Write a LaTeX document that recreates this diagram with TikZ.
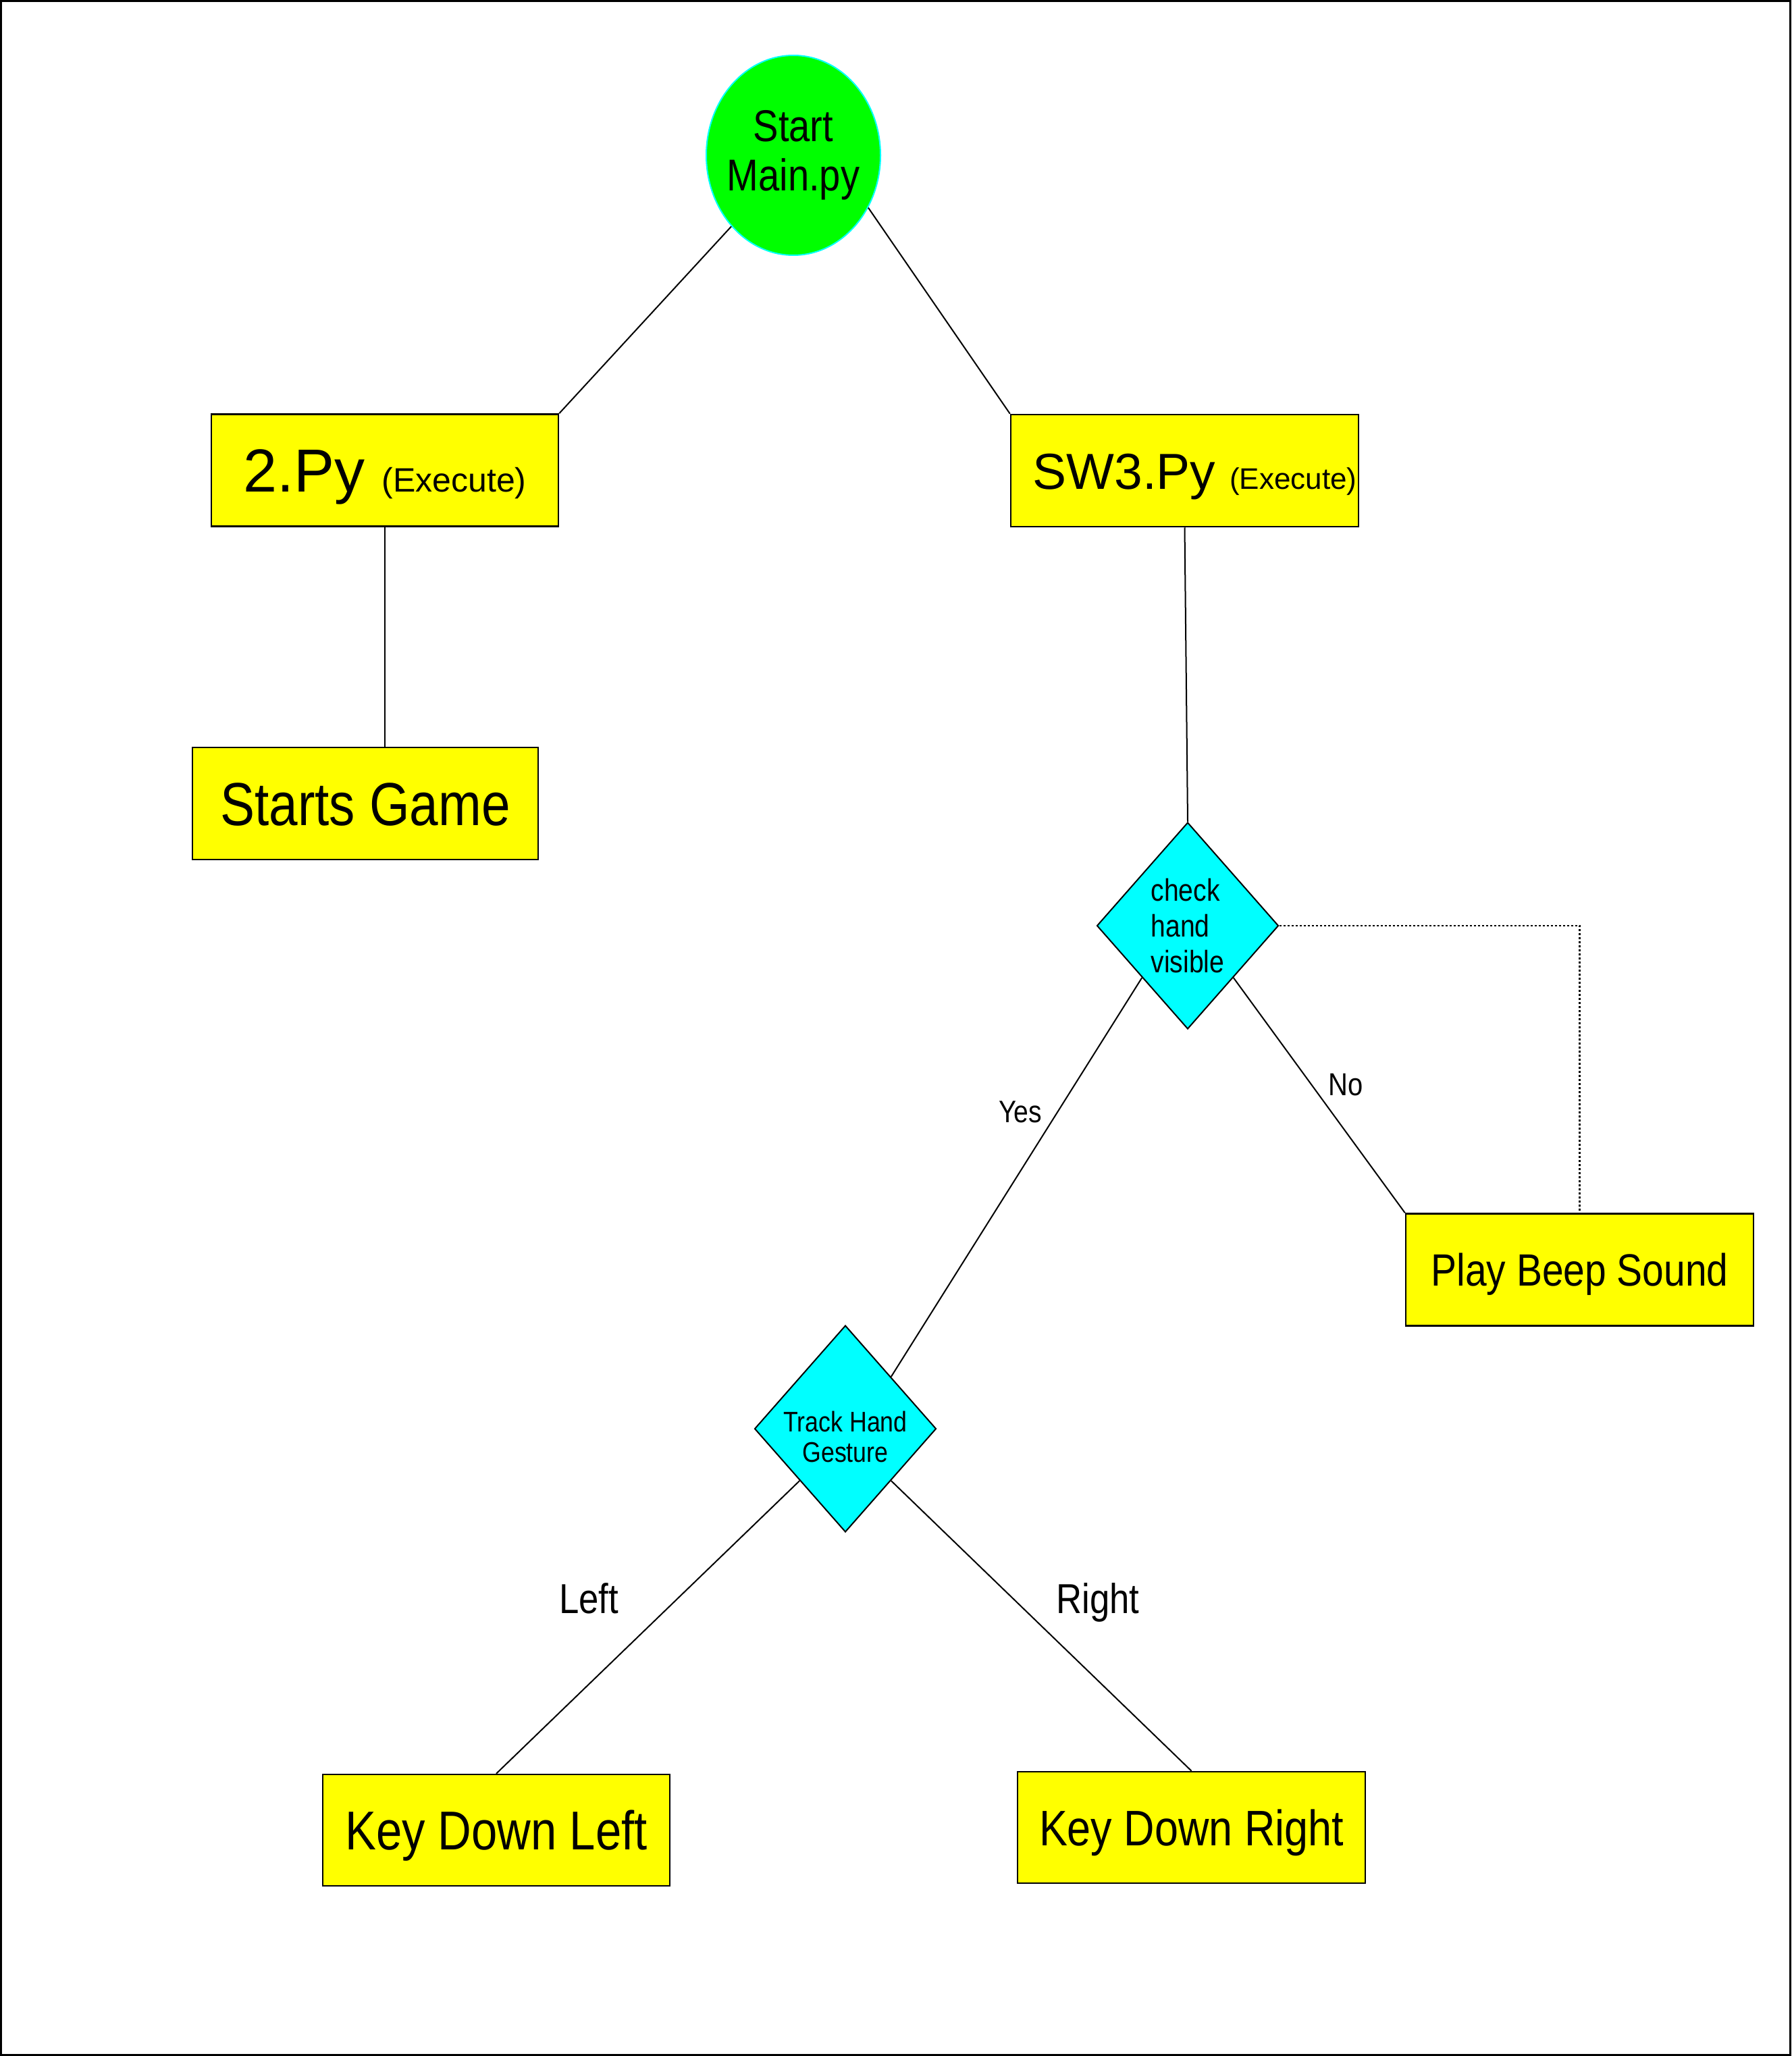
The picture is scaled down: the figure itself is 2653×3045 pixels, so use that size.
\documentclass[tikz,border=0pt]{standalone}
\usepackage{fontspec}
\setmainfont{Liberation Sans}
\newfontfamily\nar[FakeStretch=0.85]{Liberation Sans}
\usetikzlibrary{shapes.geometric}
\definecolor{boxyellow}{RGB}{255,255,0}
\definecolor{startgreen}{RGB}{0,255,0}
\definecolor{aqua}{RGB}{0,255,255}
\tikzset{
  procbox/.style={draw=black, line width=2.5pt, fill=boxyellow, rectangle, inner sep=0pt,
    minimum width=514pt, minimum height=166pt, text depth=0pt},
  decbox/.style={draw=black, line width=2pt, fill=aqua, diamond, inner sep=0pt,
    minimum width=269pt, minimum height=306pt},
  conn/.style={draw=black, line width=2pt},
  lbl/.style={inner sep=0pt, anchor=base}
}
\begin{document}
\begin{tikzpicture}[x=1pt,y=-1pt]
\useasboundingbox (0,0) rectangle (2653,3045);
\draw[line width=3pt] (1.5,1.5) rectangle (2651.5,3043.5);

\node[ellipse, draw=aqua, line width=2pt, fill=startgreen, minimum width=258pt, minimum height=296pt, inner xsep=-10pt, inner ysep=0pt, align=center, font=\nar\fontsize{66}{73}\selectfont] (st) at (1175,230) {Start\\Main.py};

\node[procbox, text height=63pt] (b2) at (570,696.5) {\fontsize{90}{90}\selectfont 2.Py \fontsize{50}{50}\selectfont(Execute)};
\node[procbox, text height=55pt, minimum width=515pt] (sw3) at (1754.5,697) {\hspace*{30pt}\fontsize{75}{75}\selectfont SW3.Py \fontsize{44}{44}\selectfont(Execute)};
\node[procbox, text height=64pt, minimum width=512pt, font=\nar\fontsize{90}{90}\selectfont] (game) at (541,1190) {Starts Game};

\node[decbox, align=left, font=\nar\fontsize{46}{53}\selectfont] (chk) at (1759,1371) {check\\hand\\visible};
\node[procbox, text height=48pt, minimum width=515pt, font=\nar\fontsize{67}{67}\selectfont] (beep) at (2339.5,1880.5) {Play Beep Sound};

\node[decbox, inner sep=-20pt, align=center, font=\nar\fontsize{42}{45}\selectfont] (trk) at (1252,2116) {\rule{0pt}{54pt}Track Hand\\Gesture};

\node[procbox, text height=58pt, minimum height=165pt, font=\nar\fontsize{81}{81}\selectfont] (kdl) at (735,2710.5) {Key Down Left};
\node[procbox, text height=53pt, minimum width=515pt, minimum height=165pt, font=\nar\fontsize{74}{74}\selectfont] (kdr) at (1764.5,2706.5) {Key Down Right};

\draw[conn] (st.south west) -- (b2.north east);
\draw[conn] (st.-35) -- (sw3.north west);
\draw[conn] (b2.south) -- (b2.south |- game.north);
\draw[conn] (sw3.south) -- (chk.north);
\draw[conn] (chk.south west) -- (trk.north east);
\draw[conn] (chk.south east) -- (beep.north west);
\draw[conn] (trk.south west) -- (kdl.north);
\draw[conn] (trk.south east) -- (kdr.north);
\draw[black, line width=2.5pt, dash pattern=on 3pt off 3pt] (chk.east) -- (beep.north |- chk.east) -- (beep.north);

\node[lbl, font=\nar\fontsize{46}{46}\selectfont] (yes) at (1511,1662) {Yes};
\node[lbl, font=\nar\fontsize{47}{47}\selectfont] (no) at (1993,1622) {No};
\node[lbl, font=\nar\fontsize{62}{62}\selectfont] (left) at (872,2389) {Left};
\node[lbl, font=\nar\fontsize{62}{62}\selectfont] (right) at (1626,2389) {Right};
\end{tikzpicture}
\end{document}
